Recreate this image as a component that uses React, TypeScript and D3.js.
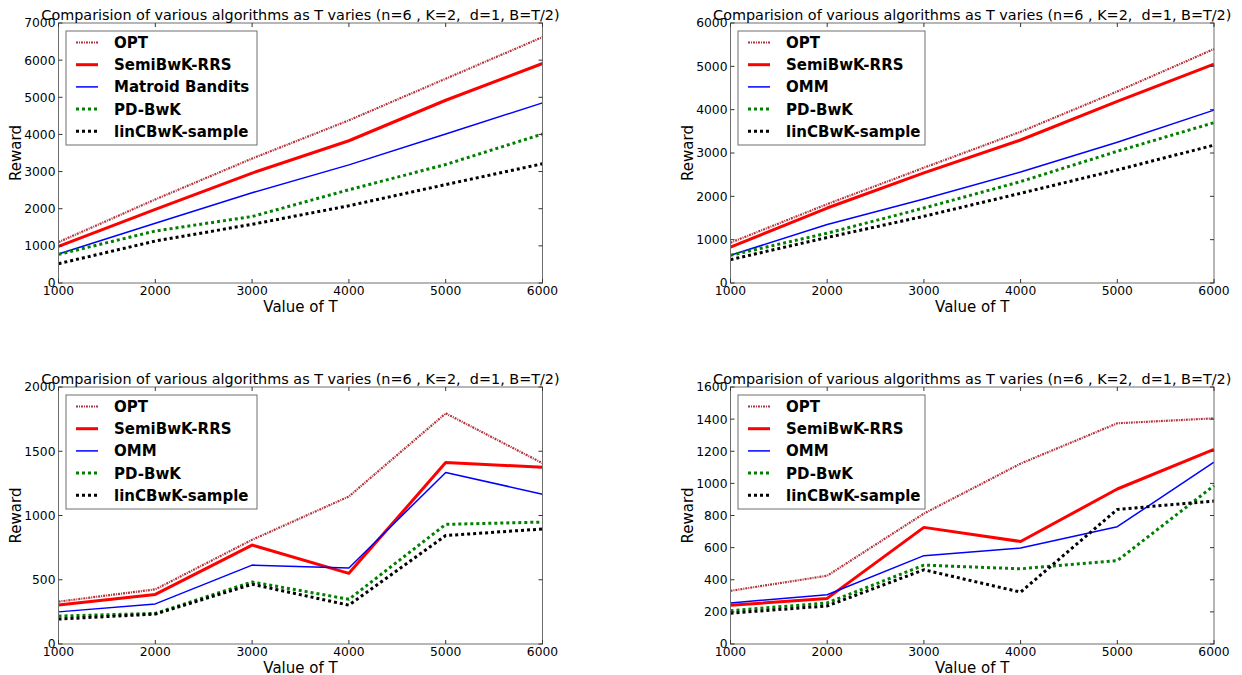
import React from 'react';
import * as d3 from 'd3';

const T_VALUES = [1000, 2000, 3000, 4000, 5000, 6000];
const X_TICKS = [1000, 2000, 3000, 4000, 5000, 6000];
const TITLE = 'Comparision of various algorithms as T varies (n=6 , K=2,  d=1, B=T/2)';
const X_LABEL = 'Value of T';
const Y_LABEL = 'Reward';

// Panel 1 (top-left)
const p1Opt = [1100, 2250, 3350, 4380, 5500, 6620];
const p1Semi = [985, 1980, 2960, 3830, 4920, 5910];
const p1Matroid = [780, 1610, 2430, 3180, 4010, 4850];
const p1PD = [770, 1400, 1790, 2510, 3190, 4010];
const p1Lin = [520, 1130, 1580, 2080, 2650, 3210];
const p1Names = ['OPT', 'SemiBwK-RRS', 'Matroid Bandits', 'PD-BwK', 'linCBwK-sample'];
const p1YTicks = [0, 1000, 2000, 3000, 4000, 5000, 6000, 7000];

// Panel 2 (top-right)
const p2Opt = [930, 1820, 2660, 3490, 4420, 5400];
const p2Semi = [830, 1730, 2540, 3300, 4190, 5050];
const p2OMM = [640, 1350, 1940, 2560, 3250, 3990];
const p2PD = [640, 1150, 1730, 2340, 3040, 3700];
const p2Lin = [540, 1050, 1540, 2070, 2610, 3180];
const p2Names = ['OPT', 'SemiBwK-RRS', 'OMM', 'PD-BwK', 'linCBwK-sample'];
const p2YTicks = [0, 1000, 2000, 3000, 4000, 5000, 6000];

// Panel 3 (bottom-left)
const p3Opt = [330, 425, 811, 1148, 1795, 1407];
const p3Semi = [304, 386, 770, 550, 1412, 1376];
const p3OMM = [250, 312, 614, 591, 1335, 1166];
const p3PD = [217, 238, 483, 348, 931, 949];
const p3Lin = [194, 233, 465, 302, 844, 895];
const p3Names = ['OPT', 'SemiBwK-RRS', 'OMM', 'PD-BwK', 'linCBwK-sample'];
const p3YTicks = [0, 500, 1000, 1500, 2000];

// Panel 4 (bottom-right)
const p4Opt = [331, 425, 812, 1123, 1374, 1405];
const p4Semi = [241, 284, 726, 638, 965, 1211];
const p4OMM = [256, 307, 550, 597, 730, 1133];
const p4PD = [207, 256, 491, 468, 519, 986];
const p4Lin = [192, 237, 462, 323, 838, 890];
const p4Names = ['OPT', 'SemiBwK-RRS', 'OMM', 'PD-BwK', 'linCBwK-sample'];
const p4YTicks = [0, 200, 400, 600, 800, 1000, 1200, 1400, 1600];

const SERIES_STYLES = [
  { color: '#b5323a', width: 2.2, dash: '2,1,1,1' },
  { color: '#ff0000', width: 3, dash: null },
  { color: '#0000ff', width: 1.5, dash: null },
  { color: '#008000', width: 3, dash: '3,3' },
  { color: '#000000', width: 3, dash: '3,3' },
];

const FONT = '"DejaVu Sans", sans-serif';

type PanelCfg = {
  left: number; right: number; top: number; bottom: number;
  series: number[][]; names: string[]; yTicks: number[]; legendW: number;
};

const PANELS: PanelCfg[] = [
  { left: 58.5, right: 542.5, top: 23, bottom: 283, series: [p1Opt, p1Semi, p1Matroid, p1PD, p1Lin], names: p1Names, yTicks: p1YTicks, legendW: 191 },
  { left: 730.5, right: 1214, top: 23, bottom: 283, series: [p2Opt, p2Semi, p2OMM, p2PD, p2Lin], names: p2Names, yTicks: p2YTicks, legendW: 187 },
  { left: 58.5, right: 542.5, top: 387, bottom: 644, series: [p3Opt, p3Semi, p3OMM, p3PD, p3Lin], names: p3Names, yTicks: p3YTicks, legendW: 191 },
  { left: 730.5, right: 1214, top: 387, bottom: 644, series: [p4Opt, p4Semi, p4OMM, p4PD, p4Lin], names: p4Names, yTicks: p4YTicks, legendW: 187 },
];

function Panel({ cfg }: { cfg: PanelCfg }) {
  const { left, right, top, bottom, series, names, yTicks, legendW } = cfg;
  const x = d3.scaleLinear().domain([T_VALUES[0], T_VALUES[T_VALUES.length - 1]]).range([left, right]);
  const y = d3.scaleLinear().domain([0, yTicks[yTicks.length - 1]]).range([bottom, top]);
  const line = d3.line<number>().x((_, i) => x(T_VALUES[i])).y((v) => y(v));
  const cx = (left + right) / 2;
  const cy = (top + bottom) / 2;
  const tl = 4;
  const lgX = left + 7.5;
  const lgY = top + 8;
  return (
    <g>
      {series.map((s, i) => (
        <path key={i} d={line(s) || ''} fill="none" stroke={SERIES_STYLES[i].color}
          strokeWidth={SERIES_STYLES[i].width} strokeDasharray={SERIES_STYLES[i].dash || undefined}
          strokeLinejoin="round" />
      ))}
      <rect x={left} y={top} width={right - left} height={bottom - top} fill="none" stroke="#6e6e6e" strokeWidth={1} />
      {X_TICKS.map((t) => (
        <g key={'x' + t}>
          <line x1={x(t)} x2={x(t)} y1={bottom} y2={bottom - tl} stroke="#333" />
          <line x1={x(t)} x2={x(t)} y1={top} y2={top + tl} stroke="#333" />
          <text x={x(t)} y={bottom + 12} fontFamily={FONT} fontSize={12.3} textAnchor="middle">{t}</text>
        </g>
      ))}
      {yTicks.map((t) => (
        <g key={'y' + t}>
          <line x1={left} x2={left + tl} y1={y(t)} y2={y(t)} stroke="#333" />
          <line x1={right} x2={right - tl} y1={y(t)} y2={y(t)} stroke="#333" />
          <text x={left - 3} y={y(t) + 4.4} fontFamily={FONT} fontSize={12.3} textAnchor="end">{t}</text>
        </g>
      ))}
      <text x={cx} y={top - 3} fontFamily={FONT} fontSize={14.4} textAnchor="middle" style={{ whiteSpace: 'pre' }}>{TITLE}</text>
      <text x={cx} y={bottom + 28.5} fontFamily={FONT} fontSize={15} textAnchor="middle">{X_LABEL}</text>
      <text transform={`translate(${left - 38},${cy}) rotate(-90)`} fontFamily={FONT} fontSize={15} textAnchor="middle">{Y_LABEL}</text>
      <rect x={lgX} y={lgY} width={legendW} height={114} fill="#fff" stroke="#6e6e6e" strokeWidth={1} />
      {names.map((n, i) => {
        const ry = lgY + 11.5 + i * 22.2;
        return (
          <g key={n}>
            <line x1={lgX + 10} x2={lgX + 32} y1={ry} y2={ry} stroke={SERIES_STYLES[i].color}
              strokeWidth={SERIES_STYLES[i].width} strokeDasharray={SERIES_STYLES[i].dash || undefined} />
            <text x={lgX + 48} y={ry + 5.5} fontFamily={FONT} fontSize={15} fontWeight="bold">{n}</text>
          </g>
        );
      })}
    </g>
  );
}

export default function App() {
  return (
    <svg width={1242} height={675} style={{ position: 'absolute', left: 0, top: 0, background: '#fff' }}>
      <rect x={0} y={0} width={1242} height={675} fill="#fff" />
      {PANELS.map((p, i) => <Panel key={i} cfg={p} />)}
    </svg>
  );
}
